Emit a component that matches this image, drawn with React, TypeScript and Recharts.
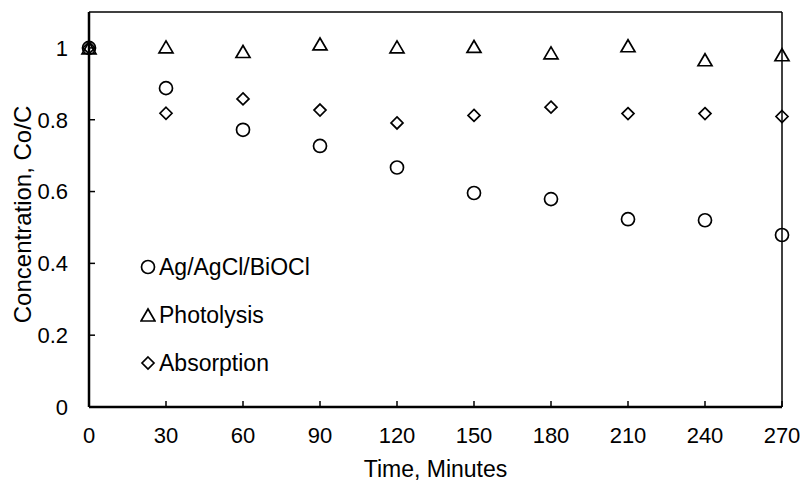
import React from "react";
import {
  ScatterChart,
  Scatter,
  XAxis,
  YAxis,
  Legend,
  ReferenceLine,
  Label,
} from "recharts";

const times = [0, 30, 60, 90, 120, 150, 180, 210, 240, 270];
const catalyst = [1.0, 0.888, 0.772, 0.727, 0.667, 0.596, 0.579, 0.523, 0.52, 0.479];
const photolysis = [1.0, 1.003, 0.99, 1.011, 1.003, 1.004, 0.986, 1.006, 0.967, 0.981];
const absorption = [1.0, 0.818, 0.858, 0.827, 0.791, 0.812, 0.835, 0.817, 0.817, 0.809];

const xTicks = [0, 30, 60, 90, 120, 150, 180, 210, 240, 270];
const yTicks = [0, 0.2, 0.4, 0.6, 0.8, 1];

const seriesNames = ["Ag/AgCl/BiOCl", "Photolysis", "Absorption"];

const toPoints = (vals: number[]) => times.map((t, i) => ({ t, c: vals[i] }));

const FONT = "'Liberation Sans', Arial, sans-serif";
const SW = 1.7;

const circle = (cx: number, cy: number) => (
  <circle cx={cx} cy={cy} r={6.5} fill="none" stroke="#000" strokeWidth={SW} />
);
const triangle = (cx: number, cy: number) => (
  <polygon
    points={`${cx},${cy - 6} ${cx + 7},${cy + 6} ${cx - 7},${cy + 6}`}
    fill="none"
    stroke="#000"
    strokeWidth={SW}
    strokeLinejoin="miter"
  />
);
const diamond = (cx: number, cy: number) => (
  <polygon
    points={`${cx},${cy - 6} ${cx + 6},${cy} ${cx},${cy + 6} ${cx - 6},${cy}`}
    fill="none"
    stroke="#000"
    strokeWidth={SW}
  />
);

const markers = [circle, triangle, diamond];

const renderLegend = () => (
  <div style={{ fontFamily: FONT, fontSize: 23, color: "#000" }}>
    {seriesNames.map((name, i) => (
      <div key={name} style={{ display: "flex", alignItems: "center", height: 48 }}>
        <svg width={16} height={16} style={{ marginRight: 3 }}>
          {markers[i](8, 8)}
        </svg>
        <span>{name}</span>
      </div>
    ))}
  </div>
);

const YLabel = (props: any) => {
  const vb = props.viewBox;
  const cy = vb.y + vb.height / 2 + 5;
  const x = 31;
  return (
    <text
      x={x}
      y={cy}
      transform={`rotate(-90, ${x}, ${cy})`}
      textAnchor="middle"
      fontFamily={FONT}
      fontSize={24}
      fill="#000"
    >
      Concentration, Co/C
    </text>
  );
};

export default function App() {
  const tickStyle = { fontFamily: FONT, fontSize: 22, fill: "#000" };
  return (
    <div style={{ position: "absolute", left: 0, top: 0, background: "#fff" }}>
      <ScatterChart width={803} height={482} margin={{ top: 12, right: 21, left: 0, bottom: 0 }}>
        <XAxis
          type="number"
          dataKey="t"
          domain={[0, 270]}
          ticks={xTicks}
          interval={0}
          height={75}
          tick={tickStyle}
          tickSize={-6}
          tickMargin={26}
          axisLine={{ stroke: "#000", strokeWidth: 2.5 }}
          tickLine={{ stroke: "#000", strokeWidth: 1.5 }}
        >
          <Label
            value="Time, Minutes"
            position="insideBottom"
            offset={5}
            style={{ fontFamily: FONT, fontSize: 23, fill: "#000" }}
          />
        </XAxis>
        <YAxis
          type="number"
          dataKey="c"
          domain={[0, 1.1]}
          ticks={yTicks}
          interval={0}
          width={89}
          tick={tickStyle}
          tickSize={-6}
          tickMargin={27}
          axisLine={{ stroke: "#000", strokeWidth: 2.5 }}
          tickLine={{ stroke: "#000", strokeWidth: 1.5 }}
          label={<YLabel />}
        />
        <ReferenceLine y={1.1} stroke="#000" strokeWidth={1.5} />
        <ReferenceLine x={270} stroke="#000" strokeWidth={1.5} />
        <Legend
          content={renderLegend}
          layout="horizontal"
          verticalAlign="middle"
          wrapperStyle={{ left: 140, top: 243, width: 220, height: 144 }}
        />
        <Scatter
          name={seriesNames[2]}
          data={toPoints(absorption)}
          isAnimationActive={false}
          shape={(p: any) => diamond(p.cx, p.cy)}
        />
        <Scatter
          name={seriesNames[1]}
          data={toPoints(photolysis)}
          isAnimationActive={false}
          shape={(p: any) => triangle(p.cx, p.cy)}
        />
        <Scatter
          name={seriesNames[0]}
          data={toPoints(catalyst)}
          isAnimationActive={false}
          shape={(p: any) => circle(p.cx, p.cy)}
        />
      </ScatterChart>
    </div>
  );
}
